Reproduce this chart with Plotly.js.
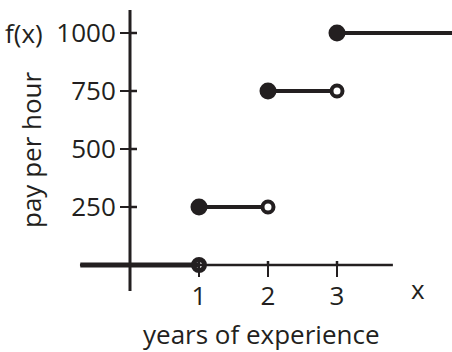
<!DOCTYPE html>
<html>
<head>
<meta charset="utf-8">
<script src="https://cdn.plot.ly/plotly-3.0.1.min.js"></script>
<style>html,body{margin:0;padding:0;background:#fff;}#chart{width:452px;height:352px;}</style>
</head>
<body>
<div id="chart"></div>
<script>
// Step function: pay per hour vs years of experience
const segStartX = [-0.72, 1, 2, 3];
const segEndX = [1, 2, 3, 4.8];
const segY = [0, 250, 750, 1000];
const filledX = [1, 2, 3];
const filledY = [250, 750, 1000];
const openX = [1, 2, 3];
const openY = [0, 250, 750];
const xTicks = [1, 2, 3];
const yTicks = [250, 500, 750, 1000];
const yTickText = ['250', '500', '750', '1000'];

const ink = '#231f20';
const font = 'Open Sans, Noto Sans, sans-serif';
const fs = 26;

// axis geometry (pixel-based layout)
const W = 452, H = 352;
const x0px = 130, xUnit = 69;      // x=0 at 130px, 69px per year
const y0px = 265, yUnit = 0.232;   // y=0 at 265px, 0.232px per unit
const xRange = [-x0px / xUnit, (W - x0px) / xUnit];
const yRange = [-(H - y0px) / yUnit, y0px / yUnit];
const xAxisExtent = [-0.725, 3.81];
const yAxisExtent = [-112, 1099];

const traces = [];
for (let i = 0; i < segY.length; i++) {
  traces.push({
    x: [segStartX[i], segEndX[i]], y: [segY[i], segY[i]],
    mode: 'lines', line: {color: ink, width: i === 0 ? 5 : 4},
    hoverinfo: 'skip', showlegend: false
  });
}
traces.push({
  x: openX.slice(0, 1), y: openY.slice(0, 1), mode: 'markers', cliponaxis: false,
  marker: {symbol: 'circle-open', size: 11, color: ink, line: {color: ink, width: 5}},
  showlegend: false, hoverinfo: 'skip'
});
traces.push({
  x: openX.slice(1), y: openY.slice(1), mode: 'markers', cliponaxis: false,
  marker: {symbol: 'circle', size: 11, color: '#ffffff', line: {color: ink, width: 4}},
  showlegend: false, hoverinfo: 'skip'
});
traces.push({
  x: filledX, y: filledY, mode: 'markers', cliponaxis: false,
  marker: {symbol: 'circle', size: 17, color: ink, line: {width: 0}},
  showlegend: false, hoverinfo: 'skip'
});

const shapes = [
  {type: 'line', xref: 'x', yref: 'y', x0: xAxisExtent[0], x1: xAxisExtent[1], y0: 0, y1: 0,
   line: {color: ink, width: 2.5}, layer: 'below'},
  {type: 'line', xref: 'x', yref: 'y', x0: 0, x1: 0, y0: yAxisExtent[0], y1: yAxisExtent[1],
   line: {color: ink, width: 3}, layer: 'below'}
];
xTicks.forEach(t => shapes.push({type: 'line', xref: 'x', yref: 'y', ysizemode: 'pixel', yanchor: 0,
  x0: t, x1: t, y0: 0, y1: 4, line: {color: ink, width: 2.5}, layer: 'below'}));
yTicks.forEach(t => shapes.push({type: 'line', xref: 'x', yref: 'y', xsizemode: 'pixel', xanchor: 0,
  x0: 0, x1: 7, y0: t, y1: t, line: {color: ink, width: 2.5}, layer: 'below'}));

const layout = {
  width: W, height: H,
  margin: {l: 0, r: 0, t: 0, b: 0, pad: 0},
  paper_bgcolor: '#ffffff', plot_bgcolor: '#ffffff',
  font: {family: font, size: fs, color: ink},
  xaxis: {
    domain: [0, 1], range: xRange, anchor: 'free', position: (H - y0px) / H,
    showline: false, showgrid: false, zeroline: false,
    tickmode: 'array', tickvals: xTicks, ticktext: xTicks.map(String),
    ticks: 'outside', ticklen: 11, tickwidth: 2.5, tickcolor: ink, ticklabelstandoff: -3,
    tickfont: {family: font, size: fs, color: ink}, fixedrange: true
  },
  yaxis: {
    domain: [0, 1], range: yRange, anchor: 'free', position: x0px / W,
    showline: false, showgrid: false, zeroline: false,
    tickmode: 'array', tickvals: yTicks, ticktext: yTickText,
    ticks: 'outside', ticklen: 10, tickwidth: 2.5, tickcolor: ink, ticklabelstandoff: -1,
    tickfont: {family: font, size: fs, color: ink}, fixedrange: true
  },
  shapes: shapes,
  annotations: [
    {text: 'f(x)', xref: 'paper', yref: 'y', x: 24 / W, y: 1000, showarrow: false,
     xanchor: 'center', yanchor: 'middle', font: {family: font, size: fs, color: ink}},
    {text: 'x', xref: 'paper', yref: 'paper', x: 418 / W, y: (H - 289) / H, showarrow: false,
     xanchor: 'center', yanchor: 'middle', font: {family: font, size: fs, color: ink}},
    {text: 'years of experience', xref: 'paper', yref: 'paper', x: 261 / W, y: (H - 334) / H,
     showarrow: false, xanchor: 'center', yanchor: 'middle', font: {family: font, size: fs, color: ink}},
    {text: 'pay per hour', xref: 'paper', yref: 'paper', x: 31 / W, y: (H - 150) / H,
     showarrow: false, textangle: -90, xanchor: 'center', yanchor: 'middle',
     font: {family: font, size: fs, color: ink}}
  ]
};

Plotly.newPlot('chart', traces, layout, {displayModeBar: false, staticPlot: true});
</script>
</body>
</html>
